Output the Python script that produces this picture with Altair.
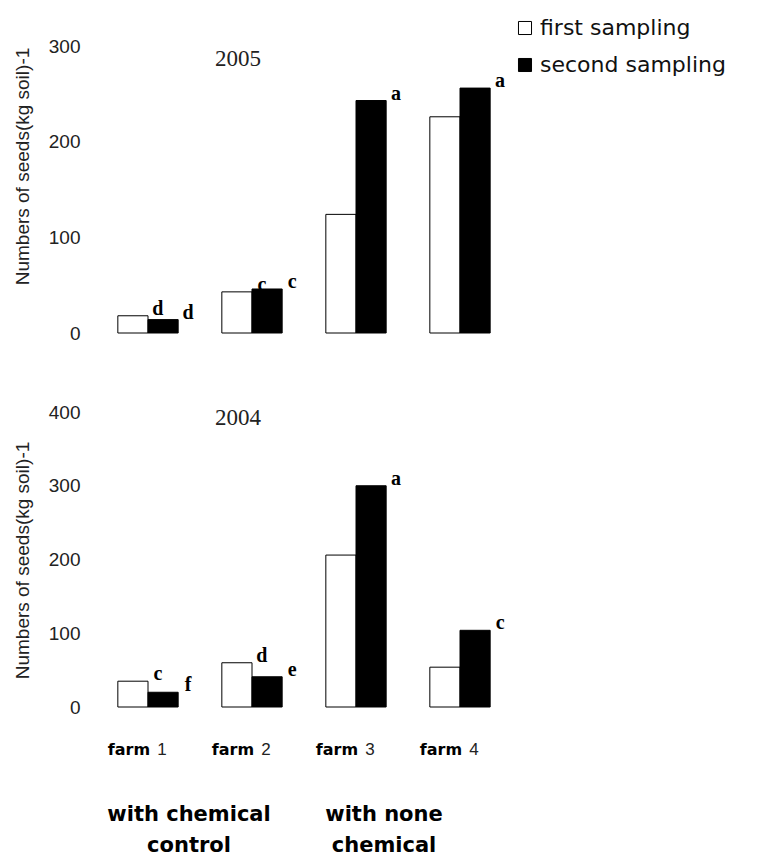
import altair as alt
import pandas as pd

farms = ["farm 1", "farm 2", "farm 3", "farm 4"]
samplings = ["first sampling", "second sampling"]

first_2005 = [18, 43, 124, 226]
second_2005 = [14, 46, 243, 256]
letters_first_2005 = ["d", "c", "", ""]
letters_second_2005 = ["d", "c", "a", "a"]

first_2004 = [35, 60, 206, 54]
second_2004 = [20, 41, 300, 104]
letters_first_2004 = ["c", "d", "", ""]
letters_second_2004 = ["f", "e", "a", "c"]

treatments = ["with chemical\ncontrol", "with none\nchemical"]
treatment_anchor = ["farm 1", "farm 3"]
treatment_dx = [41, 28]

Y_TITLE = "Numbers of seeds(kg soil)-1"
W = 416


def make_df(first, second, lf, ls):
    rows = []
    for i, f in enumerate(farms):
        rows.append({"farm": f, "sampling": samplings[0], "value": first[i], "letter": lf[i]})
        rows.append({"farm": f, "sampling": samplings[1], "value": second[i], "letter": ls[i]})
    return pd.DataFrame(rows)


def xscale():
    return alt.Scale(paddingInner=0.42, paddingOuter=0.21)


def panel(df, year, ymax, ticks, height, legend, bottom, title_y, year_y):
    xenc = alt.X("farm:N", sort=farms, axis=None, scale=xscale())
    xoff = alt.XOffset("sampling:N", sort=samplings,
                       scale=alt.Scale(paddingInner=0, paddingOuter=0))
    yenc = alt.Y("value:Q", scale=alt.Scale(domain=[0, ymax], nice=False),
                 axis=alt.Axis(values=ticks, title=Y_TITLE, domain=False, ticks=False,
                               grid=False, labelFont="Liberation Sans", labelFontSize=19,
                               labelColor="#222", labelPadding=16,
                               titleFont="Liberation Sans", titleFontSize=19,
                               titleFontWeight="normal", titleColor="#222",
                               titlePadding=16, titleY=title_y))
    if legend:
        cleg = alt.Legend(title=None, orient="none", legendX=418, legendY=-29,
                          symbolType="square", symbolSize=170, symbolStrokeColor="black",
                          symbolStrokeWidth=1, labelFont="DejaVu Sans",
                          labelFontSize=22, labelColor="#111", rowPadding=15,
                          labelOffset=4, labelLimit=400)
    else:
        cleg = None
    cenc = alt.Color("sampling:N", sort=samplings,
                     scale=alt.Scale(domain=samplings, range=["white", "black"]),
                     legend=cleg)
    base = alt.Chart(df)
    bars = base.mark_bar(stroke="black", strokeWidth=1).encode(
        x=xenc, xOffset=xoff, y=yenc, color=cenc)
    letters = base.transform_filter("datum.letter != ''").mark_text(
        font="Liberation Serif", fontWeight="bold", fontSize=20, dx=25, dy=-1,
        baseline="alphabetic", color="black").encode(
        x=xenc, xOffset=xoff, y="value:Q", text="letter:N")
    ttl = alt.Chart(pd.DataFrame({"t": [year]})).mark_text(
        font="Liberation Serif", fontSize=23, color="#222", baseline="middle").encode(
        text="t:N", x=alt.value(142), y=alt.value(year_y))
    layers = [bars, letters, ttl]
    if bottom:
        fdf = pd.DataFrame({"farm": farms})
        word = alt.Chart(fdf).mark_text(
            font="DejaVu Sans", fontWeight="bold", fontSize=16, dx=-19,
            baseline="middle", color="black").encode(
            x=alt.X("farm:N", sort=farms, axis=None, scale=xscale()),
            y=alt.value(height + 43), text=alt.value("farm"))
        num = alt.Chart(fdf).transform_calculate(
            n="split(datum.farm, ' ')[1]").mark_text(
            font="Liberation Sans", fontSize=17, dx=14, baseline="middle",
            color="#222").encode(
            x=alt.X("farm:N", sort=farms, axis=None, scale=xscale()),
            y=alt.value(height + 43), text="n:N")
        tdf = pd.DataFrame({"farm": treatment_anchor, "label": treatments})
        treat = []
        for i in range(len(treatments)):
            treat.append(alt.Chart(tdf.iloc[[i]]).mark_text(
                font="DejaVu Sans", fontWeight="bold", fontSize=21,
                dx=int(treatment_dx[i]), baseline="top",
                lineBreak="\n", lineHeight=31, color="black").encode(
                x=alt.X("farm:N", sort=farms, axis=None, scale=xscale()),
                y=alt.value(height + 97), text="label:N"))
        layers += [word, num] + treat
    return alt.layer(*layers).properties(width=W, height=height)


top = panel(make_df(first_2005, second_2005, letters_first_2005, letters_second_2005),
            "2005", 300, [0, 100, 200, 300], 287, True, False, 120, 13)
bot = panel(make_df(first_2004, second_2004, letters_first_2004, letters_second_2004),
            "2004", 400, [0, 100, 200, 300, 400], 295, False, True, 148, 6)

chart = alt.vconcat(top, bot, spacing=60).resolve_scale(
    color="independent").configure_view(stroke=None).properties(
    background="white", padding={"left": 5, "top": 9, "right": 5, "bottom": 5})

chart.save("out.html", embed_options={"renderer": "svg", "actions": False})
